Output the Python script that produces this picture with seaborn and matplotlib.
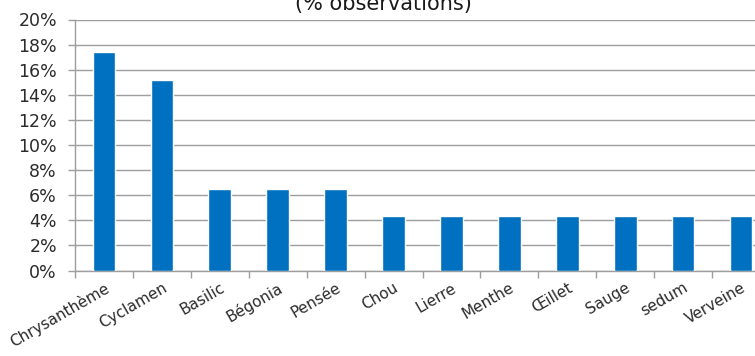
import matplotlib
matplotlib.use("Agg")
import matplotlib.pyplot as plt
from matplotlib.ticker import PercentFormatter, FixedLocator
import seaborn as sns
import pandas as pd

# Share of observations per plant (%)
plants = ["Chrysanthème", "Cyclamen", "Basilic", "Bégonia", "Pensée", "Chou",
          "Lierre", "Menthe", "Œillet", "Sauge", "sedum", "Verveine"]
share = [17.4, 15.2, 6.5, 6.5, 6.5, 4.35, 4.35, 4.35, 4.35, 4.35, 4.35, 4.35]
y_ticks = [0, 2, 4, 6, 8, 10, 12, 14, 16, 18, 20]
title_text = "(% observations)"

df = pd.DataFrame({"plante": plants, "part": share})

sns.set_theme(style="white")
plt.rcParams["font.family"] = ["DejaVu Sans"]

fig = plt.figure(figsize=(7.55, 3.56), dpi=100)
ax = fig.add_axes([75 / 755, 85.5 / 356, 695 / 755, 251 / 356])

sns.barplot(data=df, x="plante", y="part", color="#0070C0", width=0.39,
            saturation=1, ax=ax, zorder=3)

grid_col = "#9E9E9E"
text_col = "#2b2b2b"
ax.set_xlim(-0.5, len(plants) - 0.5)
ax.set_ylim(0, 20)
ax.set_yticks(y_ticks)
ax.yaxis.set_major_formatter(PercentFormatter(decimals=0))
ax.yaxis.grid(True, color=grid_col, linewidth=1.0, zorder=0)
ax.set_axisbelow(True)

# category boundaries carry the x tick marks
ax.xaxis.set_minor_locator(FixedLocator([i - 0.5 for i in range(len(plants) + 1)]))
ax.tick_params(axis="x", which="major", length=0, pad=7, labelsize=11,
               labelcolor=text_col)
ax.tick_params(axis="x", which="minor", bottom=True, length=5, width=1, color=grid_col)
ax.tick_params(axis="y", left=True, length=5, width=1, color=grid_col, pad=8,
               labelsize=12.5, labelcolor=text_col)

for lbl in ax.get_xticklabels():
    lbl.set_rotation(30)
    lbl.set_ha("right")
    lbl.set_va("top")
    lbl.set_rotation_mode("anchor")

ax.set_xlabel("")
ax.set_ylabel("")
for side in ("top", "right"):
    ax.spines[side].set_visible(False)
for side in ("left", "bottom"):
    ax.spines[side].set_color(grid_col)
    ax.spines[side].set_linewidth(1.0)

fig.text(383 / 755, (356 - 10) / 356, title_text, ha="center", va="baseline",
         fontsize=15, color="#1a1a1a")

fig.savefig("out.png", dpi=100)
